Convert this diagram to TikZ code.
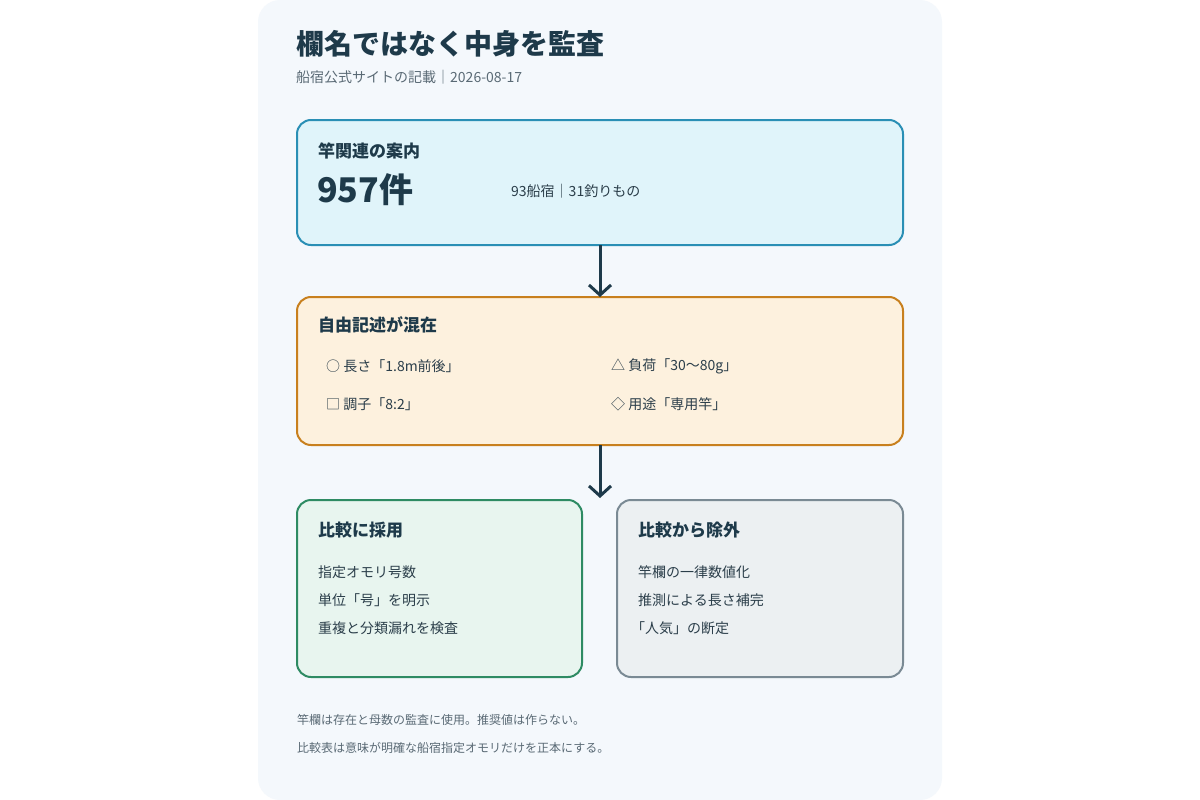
\documentclass[tikz,border=0pt]{standalone}
\usepackage{fontspec}
\setmainfont{Noto Sans CJK JP}
\newfontfamily\jpb{Noto Sans CJK JP}[FakeBold=0]
\usetikzlibrary{arrows.meta}
\definecolor{ink}{HTML}{1E3A4A}
\definecolor{sub}{HTML}{5A6A75}
\definecolor{txt}{HTML}{2B3E4A}
\tikzset{
 card/.style={rounded corners=14pt,line width=2pt},
 t/.style={anchor=west,text=txt,font=\fontsize{14}{16}\selectfont,inner sep=0},
 h/.style={anchor=west,text=ink,font=\fontsize{17}{20}\selectfont\bfseries,inner sep=0},
 arr/.style={draw=ink,line width=3pt,-{Straight Barb[length=10pt,width=22pt,line width=3pt]}}
}
\begin{document}
\begin{tikzpicture}[x=1pt,y=-1pt]
\useasboundingbox (0,0) rectangle (1200,800);
\fill[white] (0,0) rectangle (1200,800);
\fill[rounded corners=22pt,fill={rgb,255:red,244;green,248;blue,252}] (258,0) rectangle (942,800);
\node[anchor=west,inner sep=0,text=ink,font=\fontsize{28}{32}\selectfont\bfseries] (title) at (296,44) {欄名ではなく中身を監査};
\node[anchor=west,inner sep=0,text=sub,font=\fontsize{14}{16}\selectfont] (subt) at (296,77) {船宿公式サイトの記載｜2026-08-17};

\draw[card,draw={rgb,255:red,42;green,143;blue,181},fill={rgb,255:red,224;green,244;blue,250}] (297,120) rectangle (903,245);
\coordinate (c1) at (600,245);
\node[h] (h1) at (318,151) {竿関連の案内};
\node[anchor=west,inner sep=0,text=ink,font=\fontsize{34}{38}\selectfont\bfseries] (n1) at (317,190) {957件};
\node[t] (m1) at (511,191) {93船宿｜31釣りもの};

\draw[card,draw={rgb,255:red,200;green,128;blue,30},fill={rgb,255:red,253;green,241;blue,222}] (297,297) rectangle (903,445);
\coordinate (c2t) at (600,297);
\coordinate (c2b) at (600,445);
\node[h] (h2) at (318,325) {自由記述が混在};
\node[t] (a1) at (326,366) {○ 長さ「1.8m前後」};
\node[t] (a2) at (611,366) {△ 負荷「30〜80g」};
\node[t] (a3) at (326,404) {□ 調子「8:2」};
\node[t] (a4) at (611,404) {◇ 用途「専用竿」};

\draw[card,draw={rgb,255:red,46;green,139;blue,99},fill={rgb,255:red,232;green,245;blue,239}] (297,500) rectangle (582,677);
\node[h] (h3) at (318,530) {比較に採用};
\node[t] (b1) at (318,572) {指定オモリ号数};
\node[t] (b2) at (318,600) {単位「号」を明示};
\node[t] (b3) at (318,628) {重複と分類漏れを検査};

\draw[card,draw={rgb,255:red,122;green,138;blue,148},fill={rgb,255:red,236;green,240;blue,242}] (617,500) rectangle (903,677);
\node[h] (h4) at (638,530) {比較から除外};
\node[t] (d1) at (638,572) {竿欄の一律数値化};
\node[t] (d2) at (638,600) {推測による長さ補完};
\node[t] (d3) at (631,628) {「人気」の断定};
\coordinate (c3) at (600,498);

\draw[arr] (c1) -- (c2t);
\draw[arr] (c2b) -- (c3);

\node[anchor=west,inner sep=0,text=sub,font=\fontsize{12}{14}\selectfont] (f1) at (297,720) {竿欄は存在と母数の監査に使用。推奨値は作らない。};
\node[anchor=west,inner sep=0,text=sub,font=\fontsize{12}{14}\selectfont] (f2) at (297,748) {比較表は意味が明確な船宿指定オモリだけを正本にする。};
\end{tikzpicture}
\end{document}
